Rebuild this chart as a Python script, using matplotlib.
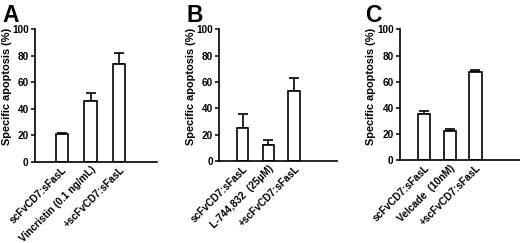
import numpy as np
import matplotlib.pyplot as plt

plt.rcParams['font.family'] = ['Liberation Sans', 'DejaVu Sans']
plt.rcParams['font.weight'] = 'bold'

# datos de cada panel
labels_a = ['scFvCD7:sFasL', 'Vincristin (0.1 ng/mL)', '+scFvCD7:sFasL']
values_a = [21, 46, 74]
err_a = [0.4, 6, 8]

labels_b = ['scFvCD7:sFasL', 'L-744,832  (25µM)', '+scFvCD7:sFasL']
values_b = [25, 12, 53]
err_b = [11, 4, 10]

labels_c = ['scFvCD7:sFasL', 'Velcade  (10nM)', '+scFvCD7:sFasL']
values_c = [35.5, 22, 67.5]
err_c = [2, 2, 1.5]

W, H = 520, 243
fig = plt.figure(figsize=(W / 100, H / 100), dpi=100)

# [left, bottom, width, height], xlim, ancho de barra, letra, pos letra (px), pos ylabel (px)
paneles = [
    ([0.0673, 0.3346, 0.2346, 0.5444], (-0.93, 3.31), 0.42, 'A', labels_a, values_a, err_a, 2, 7),
    ([0.4217, 0.3370, 0.2258, 0.5420], (-0.90, 3.65), 0.45, 'B', labels_b, values_b, err_b, 186, 191),
    ([0.7692, 0.3416, 0.2308, 0.5374], (-0.93, 3.73), 0.48, 'C', labels_c, values_c, err_c, 365, 371),
]

for rect, xl, w, letra, labs, vals, errs, lx, yx in paneles:
    ax = fig.add_axes(rect)
    x = np.arange(len(vals))
    ax.bar(x, vals, width=w, color='white', edgecolor='black', linewidth=1.2, zorder=2)
    ax.errorbar(x, vals, yerr=[np.zeros(len(errs)), errs], fmt='none', ecolor='black',
                elinewidth=1.2, capsize=3.5, capthick=1.2, zorder=1)
    ax.set_xlim(*xl)
    ax.set_ylim(0, 100)
    ax.set_yticks([0, 20, 40, 60, 80, 100])
    ax.tick_params(axis='y', length=3, width=1.1, labelsize=7.2, pad=1.5)
    ax.tick_params(axis='x', length=0, pad=2)
    ax.set_xticks(x)
    ax.set_xticklabels(labs, rotation=45, ha='right', va='top', rotation_mode='anchor', fontsize=7.3)
    for s in ['top', 'right']:
        ax.spines[s].set_visible(False)
    for s in ['left', 'bottom']:
        ax.spines[s].set_linewidth(1.2)
    fig.text(yx / W, 1 - 86 / H, 'Specific apoptosis (%)', rotation=90, fontsize=7.9,
             ha='center', va='center')
    fig.text(lx / W, 1 - 4 / H, letra, fontsize=16.5, fontweight='bold', ha='left', va='top')

fig.savefig('out.png', dpi=100)
